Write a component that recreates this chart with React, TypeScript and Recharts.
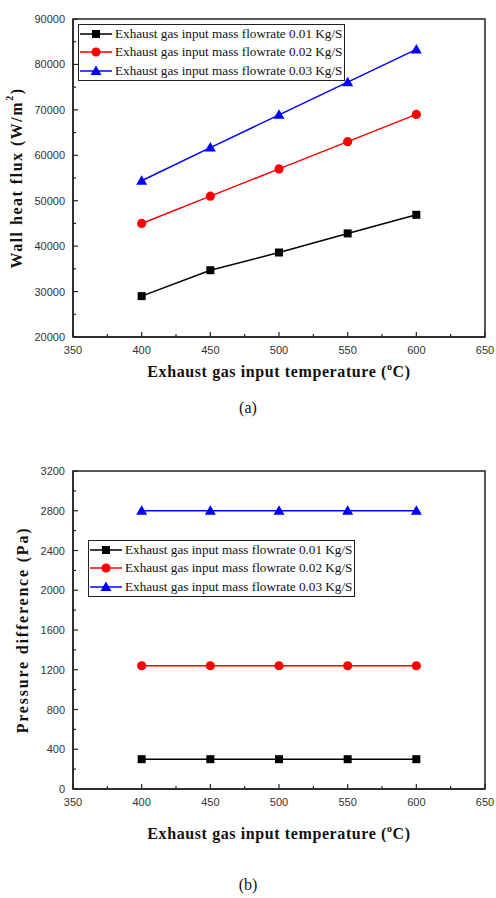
import React from "react";
import { LineChart, Line, XAxis, YAxis, Legend, Label, ReferenceArea } from "recharts";

const temps = [400, 450, 500, 550, 600];

// (a) wall heat flux, W/m2
const fluxLow = [29000, 34700, 38600, 42800, 46900];
const fluxMid = [45000, 51000, 57000, 63000, 69000];
const fluxHigh = [54400, 61700, 68900, 76100, 83300];

// (b) pressure difference, Pa
const dpLow = [300, 300, 300, 300, 300];
const dpMid = [1240, 1240, 1240, 1240, 1240];
const dpHigh = [2800, 2800, 2800, 2800, 2800];

const seriesNames = [
  "Exhaust gas input mass flowrate 0.01 Kg/S",
  "Exhaust gas input mass flowrate 0.02 Kg/S",
  "Exhaust gas input mass flowrate 0.03 Kg/S",
];

const xTicks = [350, 375, 400, 425, 450, 475, 500, 525, 550, 575, 600, 625, 650];
const fluxTicks = [20000, 25000, 30000, 35000, 40000, 45000, 50000, 55000, 60000, 65000, 70000, 75000, 80000, 85000, 90000];
const dpTicks = [0, 200, 400, 600, 800, 1000, 1200, 1400, 1600, 1800, 2000, 2200, 2400, 2600, 2800, 3000, 3200];

const SERIF = "'Liberation Serif', 'Times New Roman', serif";
const SANS = "'Liberation Sans', Arial, sans-serif";
const AXIS = "#222";

const SERIES = [
  { key: "s0", name: seriesNames[0], color: "#000000", shape: "square" },
  { key: "s1", name: seriesNames[1], color: "#ff0000", shape: "circle" },
  { key: "s2", name: seriesNames[2], color: "#0000ff", shape: "triangle" },
];

const fluxData = temps.map((t, i) => ({ temp: t, s0: fluxLow[i], s1: fluxMid[i], s2: fluxHigh[i] }));
const dpData = temps.map((t, i) => ({ temp: t, s0: dpLow[i], s1: dpMid[i], s2: dpHigh[i] }));

function Marker({ shape, cx, cy, color }: any) {
  if (shape === "square") return <rect x={cx - 4} y={cy - 4} width={8} height={8} fill={color} />;
  if (shape === "circle") return <circle cx={cx} cy={cy} r={4.6} fill={color} />;
  return <polygon points={`${cx},${cy - 5.5} ${cx + 5.5},${cy + 4} ${cx - 5.5},${cy + 4}`} fill={color} />;
}

const legendContent = () => (
  <div
    style={{
      border: `1.5px solid ${AXIS}`,
      background: "#fff",
      padding: "0px 2px 0px 1px",
      fontFamily: SERIF,
      fontSize: 13.2,
      lineHeight: "18.3px",
      color: "#111",
    }}
  >
    {SERIES.map((s) => (
      <div key={s.key} style={{ display: "flex", alignItems: "center", whiteSpace: "nowrap" }}>
        <svg width={32} height={12}>
          <line x1={0} x2={32} y1={6} y2={6} stroke={s.color} strokeWidth={1.5} />
          <Marker shape={s.shape} cx={16} cy={6} color={s.color} />
        </svg>
        <span style={{ marginLeft: 3 }}>{s.name}</span>
      </div>
    ))}
  </div>
);

const XTick = ({ x, y, payload }: any) => {
  const major = payload.value % 50 === 0;
  const axisY = y - 8;
  return (
    <g>
      <line x1={x} x2={x} y1={axisY} y2={axisY - (major ? 5 : 3)} stroke={AXIS} strokeWidth={1.2} />
      {major && (
        <text x={x} y={y} dy={9} textAnchor="middle" fontFamily={SANS} fontSize={11} fill="#333">
          {payload.value}
        </text>
      )}
    </g>
  );
};

const makeYTick = (step: number) => ({ x, y, payload }: any) => {
  const major = payload.value % step === 0;
  const axisX = x + 8;
  return (
    <g>
      <line x1={axisX} x2={axisX + (major ? 5 : 3)} y1={y} y2={y} stroke={AXIS} strokeWidth={1.2} />
      {major && (
        <text x={x} y={y} dy={4} textAnchor="end" fontFamily={SANS} fontSize={11} fill="#333">
          {payload.value}
        </text>
      )}
    </g>
  );
};

const makeXTitle = (offset: number) => ({ viewBox }: any) => (
  <text
    x={viewBox.x + viewBox.width / 2}
    y={viewBox.y + offset}
    textAnchor="middle"
    fontFamily={SERIF}
    fontWeight="bold"
    fontSize={16}
    letterSpacing={0.6}
    fill="#111"
  >
    Exhaust gas input temperature (
    <tspan fontSize={10} dy={-7}>o</tspan>
    <tspan dy={7}>C)</tspan>
  </text>
);

function Panel({ data, yDomain, yTicks, yStep, yTitle, titleX, titleSpacing, xTitleOffset, legendPos, top, caption, captionTop }: any) {
  const yTitleContent = ({ viewBox }: any) => {
    const cx = titleX;
    const cy = viewBox.y + viewBox.height / 2;
    return (
      <text
        x={cx}
        y={cy}
        transform={`rotate(-90 ${cx} ${cy})`}
        textAnchor="middle"
        dominantBaseline="central"
        fontFamily={SERIF}
        fontWeight="bold"
        fontSize={16}
        letterSpacing={titleSpacing}
        fill="#111"
      >
        {yTitle}
      </text>
    );
  };
  return (
    <>
      <div style={{ position: "absolute", left: 0, top }}>
        <LineChart width={496} height={400} data={data} margin={{ top: 19, right: 11, bottom: 33, left: 10 }}>
          <ReferenceArea x1={350} x2={650} y1={yDomain[0]} y2={yDomain[1]} fill="none" stroke={AXIS} strokeWidth={1.5} />
          <XAxis
            dataKey="temp"
            type="number"
            domain={[350, 650]}
            ticks={xTicks}
            interval={0}
            tickSize={0}
            tickMargin={8}
            tickLine={false}
            tick={XTick}
            axisLine={{ stroke: AXIS, strokeWidth: 1.5 }}
            height={30}
          >
            <Label content={makeXTitle(xTitleOffset)} />
          </XAxis>
          <YAxis
            type="number"
            domain={yDomain}
            ticks={yTicks}
            interval={0}
            tickSize={0}
            tickMargin={8}
            tickLine={false}
            tick={makeYTick(yStep)}
            axisLine={{ stroke: AXIS, strokeWidth: 1.5 }}
            width={63}
          >
            <Label content={yTitleContent} />
          </YAxis>
          <Legend
            layout="vertical"
            align="center"
            verticalAlign="middle"
            content={legendContent}
            wrapperStyle={{ left: legendPos[0], top: legendPos[1], width: "auto", height: "auto" }}
          />
          {SERIES.map((s) => (
            <Line
              key={s.key}
              dataKey={s.key}
              name={s.name}
              stroke={s.color}
              strokeWidth={1.5}
              isAnimationActive={false}
              dot={(p: any) => <Marker key={`${s.key}-${p.index}`} shape={s.shape} cx={p.cx} cy={p.cy} color={s.color} />}
              activeDot={false}
            />
          ))}
        </LineChart>
      </div>
      <div
        style={{
          position: "absolute",
          left: 0,
          width: 496,
          top: captionTop,
          textAlign: "center",
          fontFamily: SERIF,
          fontSize: 16,
          color: "#111",
        }}
      >
        {caption}
      </div>
    </>
  );
}

export default function App() {
  return (
    <div style={{ position: "absolute", left: 0, top: 0, width: 496, height: 898, background: "#fff", overflow: "hidden" }}>
      <Panel
        data={fluxData}
        yDomain={[20000, 90000]}
        yTicks={fluxTicks}
        yStep={10000}
        titleX={16}
        titleSpacing={1.5}
        xTitleOffset={40}
        yTitle={
          <>
            Wall heat flux (W/m
            <tspan fontSize={10} dy={-7}>2</tspan>
            <tspan dy={7}>)</tspan>
          </>
        }
        legendPos={[78, 24]}
        top={0}
        caption="(a)"
        captionTop={399}
      />
      <Panel
        data={dpData}
        yDomain={[0, 3200]}
        yTicks={dpTicks}
        yStep={400}
        titleX={22}
        titleSpacing={1.8}
        xTitleOffset={50}
        yTitle="Pressure difference (Pa)"
        legendPos={[88, 540 - 452]}
        top={452}
        caption="(b)"
        captionTop={876}
      />
    </div>
  );
}
